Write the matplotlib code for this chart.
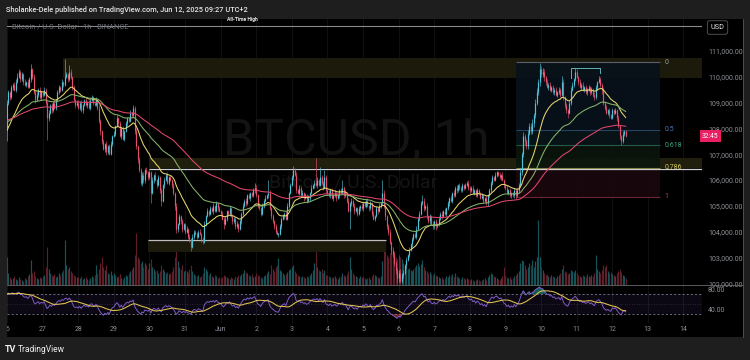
import numpy as np
import pandas as pd
import matplotlib
matplotlib.use("Agg")
import matplotlib.pyplot as plt
from matplotlib.patches import Rectangle
from matplotlib.transforms import blended_transform_factory
from matplotlib import font_manager

# ---------------- data ----------------
title = "Sholanke-Dele published on TradingView.com, Jun 12, 2025 09:27 UTC+2"
symbol_desc = "Bitcoin / U.S. Dollar \u00b7 1h \u00b7 BINANCE"
watermark = "BTCUSD, 1h"
watermark_sub = "Bitcoin / U.S. Dollar"
ath_label = "All-Time High"
currency = "USD"
countdown = "32:45"
day_labels = ["26", "27", "28", "29", "30", "31", "Jun", "2", "3", "4", "5", "6",
              "7", "8", "9", "10", "11", "12", "13", "14"]
price_ticks = [102000, 103000, 104000, 105000, 106000, 107000, 108000, 109000, 110000, 111000]
rsi_ticks = [40, 80]

# hourly closes in units of $100 (one list per day, from May 26 00:00)
first_open = 1080
close_0526 = [1090,1094,1092,1096,1097,1095,1098,1100,1102,1099,1101,1098,1097,1098,1096,1099,1103,1100,1094,1091,1093,1095,1092,1094]
close_0527 = [1093,1095,1090,1084,1086,1089,1087,1090,1088,1091,1094,1096,1095,1098,1097,1100,1101,1099,1102,1100,1096,1091,1089,1090]
close_0528 = [1088,1090,1087,1089,1091,1089,1090,1088,1091,1092,1090,1089,1091,1088,1083,1079,1075,1072,1074,1071,1073,1070,1074,1077]
close_0529 = [1078,1081,1084,1082,1077,1080,1076,1079,1082,1084,1083,1086,1085,1088,1079,1073,1068,1064,1059,1062,1060,1064,1063,1061]
close_0530 = [1063,1055,1060,1062,1060,1058,1061,1056,1052,1058,1060,1062,1059,1061,1060,1058,1055,1050,1041,1043,1046,1044,1041,1043]
close_0531 = [1040,1041,1038,1037,1034,1038,1040,1039,1038,1040,1039,1037,1036,1043,1046,1048,1047,1049,1048,1050,1048,1051,1049,1048]
close_0601 = [1047,1045,1043,1045,1048,1047,1049,1046,1044,1045,1042,1043,1041,1044,1047,1050,1052,1051,1054,1053,1055,1054,1056,1057]
close_0602 = [1054,1050,1049,1047,1050,1052,1053,1054,1055,1049,1046,1044,1042,1040,1039,1039,1042,1045,1046,1047,1045,1050,1055,1058]
close_0603 = [1061,1064,1062,1056,1055,1057,1054,1055,1053,1054,1052,1053,1055,1057,1058,1059,1058,1060,1058,1061,1059,1057,1061,1056]
close_0604 = [1055,1054,1056,1053,1054,1055,1053,1054,1056,1055,1057,1054,1055,1052,1048,1051,1052,1050,1048,1049,1047,1049,1050,1049]
close_0605 = [1051,1050,1052,1050,1049,1051,1047,1045,1046,1049,1048,1050,1051,1055,1050,1046,1042,1040,1036,1033,1031,1028,1025,1022]
close_0606 = [1024,1021,1023,1024,1027,1029,1031,1033,1035,1037,1039,1038,1041,1045,1047,1051,1052,1049,1050,1046,1044,1046,1043,1042]
close_0607 = [1044,1042,1043,1045,1047,1046,1048,1047,1049,1051,1053,1052,1055,1054,1057,1056,1058,1057,1056,1058,1057,1058,1059,1057]
close_0608 = [1056,1057,1055,1056,1054,1056,1055,1053,1054,1052,1053,1051,1054,1056,1059,1061,1060,1062,1063,1062,1061,1062,1060,1058]
close_0609 = [1057,1055,1056,1054,1055,1054,1056,1054,1056,1058,1063,1070,1077,1075,1073,1078,1081,1079,1082,1085,1090,1094,1098,1103]
close_0610 = [1101,1102,1100,1098,1096,1097,1095,1096,1094,1095,1093,1094,1095,1093,1098,1092,1089,1087,1086,1090,1095,1097,1099,1102]
close_0611 = [1100,1098,1096,1097,1095,1096,1094,1095,1096,1094,1095,1093,1092,1096,1098,1099,1097,1095,1090,1088,1086,1087,1085,1084]
close_0612 = [1087,1086,1087,1084,1081,1077,1075,1078,1079,1077]

# upper / lower wick lengths beyond the body, in steps of $50
wick_up_0526 = [2,2,1,2,1,2,2,3,2,1,2,1,2,1,2,2,4,1,2,1,2,1,2,1]
wick_up_0527 = [1,2,1,1,2,1,2,1,2,1,2,2,1,2,1,14,2,1,5,2,1,2,1,2]
wick_up_0528 = [2,1,2,1,1,2,1,2,1,2,1,1,2,1,2,1,1,2,1,2,1,2,2,1]
wick_up_0529 = [2,1,2,1,2,1,2,1,2,1,1,2,1,2,1,2,1,2,1,2,2,1,2,1]
wick_up_0530 = [2,1,2,1,2,1,2,1,2,1,2,1,2,1,2,1,2,1,2,1,2,1,2,1]
wick_up_0531 = [1,2,1,2,1,2,1,1,2,1,2,1,2,2,1,2,1,2,1,2,1,2,1,2]
wick_up_0601 = [1,2,1,2,1,1,2,1,2,1,1,2,1,2,1,2,1,2,1,2,1,1,2,4]
wick_up_0602 = [2,1,2,1,2,1,2,1,10,2,1,2,1,2,1,1,2,1,2,1,2,2,1,2]
wick_up_0603 = [2,3,1,2,1,2,1,2,1,2,1,2,1,2,1,2,19,2,1,8,2,1,6,2]
wick_up_0604 = [1,2,1,2,1,2,1,2,1,2,6,1,2,1,2,1,2,1,2,1,1,2,1,2]
wick_up_0605 = [1,2,1,2,1,2,1,2,1,2,1,2,1,10,2,2,1,2,2,1,2,2,1,2]
wick_up_0606 = [2,3,2,2,1,2,1,2,1,2,1,2,2,1,2,2,4,2,1,2,1,2,1,2]
wick_up_0607 = [1,2,1,2,1,2,1,2,1,2,1,2,1,2,1,2,1,2,1,2,1,2,1,2]
wick_up_0608 = [1,1,2,1,1,2,1,1,2,1,1,2,1,2,1,2,1,2,1,1,2,1,2,1]
wick_up_0609 = [1,2,1,2,1,1,2,1,2,2,3,2,3,2,2,3,2,2,3,2,3,3,2,5]
wick_up_0610 = [2,3,2,1,2,1,2,1,2,1,2,1,2,1,5,2,1,2,1,2,2,2,1,3]
wick_up_0611 = [2,1,2,1,2,1,2,1,2,1,2,1,2,2,1,3,2,1,2,1,2,1,2,1]
wick_up_0612 = [2,1,2,1,2,1,1,2,1,1]

wick_dn_0526 = [10,2,2,1,2,1,2,1,1,2,1,2,1,2,1,1,2,2,1,2,1,2,1,2]
wick_dn_0527 = [2,1,2,17,2,1,2,1,1,2,1,1,2,1,2,1,1,2,1,2,2,1,2,1]
wick_dn_0528 = [1,2,1,2,1,1,2,1,2,1,2,1,1,2,2,3,2,1,2,3,2,1,1,2]
wick_dn_0529 = [1,2,1,2,1,2,1,2,1,2,1,1,2,1,2,2,3,2,2,3,2,2,1,2]
wick_dn_0530 = [1,8,1,2,1,2,1,2,4,1,2,1,1,2,1,2,2,3,3,2,1,2,2,1]
wick_dn_0531 = [2,1,2,2,3,1,2,1,2,1,1,2,2,1,2,1,2,1,1,2,1,1,2,1]
wick_dn_0601 = [2,1,4,1,2,1,2,1,2,1,2,1,2,1,2,1,1,2,1,1,2,1,1,2]
wick_dn_0602 = [1,2,1,2,1,2,1,1,2,1,2,1,2,2,1,2,1,2,1,2,1,1,2,1]
wick_dn_0603 = [1,2,1,2,1,2,1,1,2,1,2,1,2,1,1,2,1,2,1,1,2,2,1,2]
wick_dn_0604 = [2,1,2,1,2,1,2,1,2,1,1,2,1,2,1,14,2,1,2,1,2,1,2,1]
wick_dn_0605 = [2,1,2,1,2,1,2,1,2,1,2,1,2,1,2,3,2,3,2,3,2,3,3,4]
wick_dn_0606 = [3,2,2,2,1,2,1,2,1,2,1,1,2,1,2,1,1,2,1,2,1,2,1,2]
wick_dn_0607 = [2,3,1,2,1,2,1,1,2,1,2,1,2,1,1,2,1,2,1,1,2,1,1,2]
wick_dn_0608 = [2,1,1,2,1,1,2,1,1,2,1,1,2,1,1,2,1,1,2,1,1,2,1,2]
wick_dn_0609 = [2,1,2,1,2,1,2,3,1,2,1,2,2,3,2,2,1,2,2,3,2,2,2,3]
wick_dn_0610 = [2,2,3,2,1,2,1,2,1,2,1,2,1,2,1,2,2,2,4,1,2,1,2,1]
wick_dn_0611 = [1,2,1,2,1,2,1,2,1,2,1,2,2,1,2,1,2,3,2,2,1,2,2,1]
wick_dn_0612 = [1,2,1,2,2,2,3,1,2,1]

# hourly volume (relative units)
vol_0526 = [28,12,8,6,7,9,6,5,8,6,5,4,7,6,9,11,25,12,14,9,7,6,8,7]
vol_0527 = [9,10,18,38,16,12,10,9,11,8,9,12,10,13,15,45,20,16,18,14,12,10,9,8]
vol_0528 = [8,7,9,6,7,8,6,5,7,9,8,10,20,12,16,22,28,18,15,20,12,11,14,10]
vol_0529 = [12,10,8,9,11,7,6,8,10,9,12,14,16,18,30,52,28,26,22,24,18,22,20,16]
vol_0530 = [22,26,18,16,14,15,12,14,20,16,14,12,13,11,12,14,18,28,45,24,18,16,20,14]
vol_0531 = [15,14,12,16,20,14,11,10,9,10,8,9,12,18,16,14,10,12,9,8,10,9,7,8]
vol_0601 = [7,8,10,9,8,7,6,8,7,6,9,8,10,9,11,12,15,13,12,10,9,11,8,9]
vol_0602 = [12,10,9,8,7,9,10,12,14,11,20,16,14,18,20,27,15,14,12,10,11,13,15,16]
vol_0603 = [18,20,14,12,10,9,8,9,8,7,9,8,10,12,15,22,37,18,15,14,16,12,15,10]
vol_0604 = [10,9,8,7,8,9,7,6,8,9,12,10,9,11,14,28,16,12,10,9,8,7,9,8]
vol_0605 = [8,7,6,7,8,6,9,11,10,9,8,7,9,24,36,42,30,28,32,38,30,34,28,26]
vol_0606 = [30,28,26,22,20,18,16,17,15,14,16,18,20,22,19,21,25,18,15,14,12,13,11,10]
vol_0607 = [12,10,9,8,7,8,6,7,9,8,10,9,11,8,12,9,8,7,6,8,7,6,7,6]
vol_0608 = [5,6,5,4,5,6,5,4,5,6,7,5,8,10,12,11,9,8,7,6,5,7,9,18]
vol_0609 = [10,8,7,8,6,7,9,10,12,14,22,25,24,20,16,18,22,20,25,18,24,28,65,28]
vol_0610 = [18,15,12,10,11,9,8,10,9,8,7,9,10,12,16,20,14,13,11,12,15,14,13,15]
vol_0611 = [12,10,9,8,10,9,8,11,9,8,10,9,12,30,16,14,12,15,20,18,20,14,12,13]
vol_0612 = [11,10,9,12,14,16,13,10,9,7]

# indicator settings / starting values read at the left edge
ema_periods = [20, 50, 100]
ema_start = [107800, 108200, 108300]
rsi_period = 14
rsi_start_gain = 200.0
rsi_start_loss = 120.0

# drawings (prices in $, times in hours since May 26 00:00)
ath_price = 111980
supply_zone = [109950, 110730]
supply_start = 38
mid_zone = [106465, 106850]
mid_line = 106410
mid_start = 96
low_zone = [103210, 103670]
low_start, low_end = 95, 255.5
fib_high, fib_low = 110560, 105350
fib_levels = [0, 0.5, 0.618, 0.786, 1]
fib_names = ["0", "0.5", "0.618", "0.786", "1"]
fib_start, fib_end = 343, 440
range_top = 110350
range_left, range_right = 380, 400
range_feet = [109950, 110150]

# ---------------- build series ----------------
closes = np.array(sum([close_0526, close_0527, close_0528, close_0529, close_0530, close_0531,
                       close_0601, close_0602, close_0603, close_0604, close_0605, close_0606,
                       close_0607, close_0608, close_0609, close_0610, close_0611, close_0612], []), float) * 100
wu = np.array(sum([wick_up_0526, wick_up_0527, wick_up_0528, wick_up_0529, wick_up_0530, wick_up_0531,
                   wick_up_0601, wick_up_0602, wick_up_0603, wick_up_0604, wick_up_0605, wick_up_0606,
                   wick_up_0607, wick_up_0608, wick_up_0609, wick_up_0610, wick_up_0611, wick_up_0612], []), float) * 50
wd = np.array(sum([wick_dn_0526, wick_dn_0527, wick_dn_0528, wick_dn_0529, wick_dn_0530, wick_dn_0531,
                   wick_dn_0601, wick_dn_0602, wick_dn_0603, wick_dn_0604, wick_dn_0605, wick_dn_0606,
                   wick_dn_0607, wick_dn_0608, wick_dn_0609, wick_dn_0610, wick_dn_0611, wick_dn_0612], []), float) * 50
vols = np.array(sum([vol_0526, vol_0527, vol_0528, vol_0529, vol_0530, vol_0531,
                     vol_0601, vol_0602, vol_0603, vol_0604, vol_0605, vol_0606,
                     vol_0607, vol_0608, vol_0609, vol_0610, vol_0611, vol_0612], []), float)
n = len(closes)
hrs = np.arange(n)
opens = np.concatenate([[first_open * 100.0], closes[:-1]])
body_lo = np.minimum(opens, closes)
body_hi = np.maximum(opens, closes)
highs = body_hi + wu
lows = body_lo - wd
up = closes >= opens


def ema(values, span, start):
    a = 2.0 / (span + 1)
    e = start
    out = []
    for v in values:
        e = e + a * (v - e)
        out.append(e)
    return np.array(out)


emas = [ema(closes, p, s) for p, s in zip(ema_periods, ema_start)]

delta = closes - opens
ag, al = rsi_start_gain, rsi_start_loss
rsi = []
for d in delta:
    ag = (ag * (rsi_period - 1) + max(d, 0)) / rsi_period
    al = (al * (rsi_period - 1) + max(-d, 0)) / rsi_period
    rsi.append(100 - 100 / (1 + ag / al))
rsi = np.array(rsi)
rsi_ma = pd.Series(rsi).rolling(14, min_periods=1).mean().values

# ---------------- styling ----------------
W, H = 750, 360
BG = "#1e1e1e"
UP = "#52c2d6"
DN = "#e44f6d"
GRAY = "#8c8f96"
names = {f.name for f in font_manager.fontManager.ttflist}
FONT = "Roboto" if "Roboto" in names else "DejaVu Sans"
plt.rcParams["font.family"] = [FONT, "DejaVu Sans"]

fig = plt.figure(figsize=(7.5, 3.6), dpi=100, facecolor=BG)


def fx(px):
    return px / W


def fy(py):
    return 1 - py / H


def rect_px(x0, y0, x1, y1):
    return [fx(x0), fy(y1), (x1 - x0) / W, (y1 - y0) / H]


# black chart frame
fig.add_artist(Rectangle((fx(7), fy(337)), (743 - 7) / W, (337 - 19) / H,
                         transform=fig.transFigure, facecolor="#000000", edgecolor="none", zorder=-1))

XMAX = 695 / 1.4835
YLO, YHI = 101930, 112240

ax_vol = fig.add_axes(rect_px(7, 19, 702, 285))
ax = fig.add_axes(rect_px(7, 19, 702, 285), sharex=ax_vol)
ax_rsi = fig.add_axes(rect_px(7, 285, 702, 323), sharex=ax_vol)
for a in (ax_vol, ax, ax_rsi):
    a.set_facecolor("none")
    for s in a.spines.values():
        s.set_visible(False)
ax_vol.set_xlim(0, XMAX)

day_pos = [24 * i for i in range(len(day_labels))]

# grid + volume
ax_vol.set_ylim(0, 266)
for p in day_pos:
    ax_vol.axvline(p, color="#141414", lw=0.6, zorder=0)
    ax_rsi.axvline(p, color="#141414", lw=0.6, zorder=0)
ax_vol.vlines(hrs, 0, vols, colors=np.where(up, "#17545a", "#5e1f2b"), lw=0.85, zorder=1)
ax_vol.set_yticks([])
ax_vol.tick_params(axis="x", labelbottom=False, length=0)

# main price pane
ax.set_ylim(YLO, YHI)
trans_ax_x = blended_transform_factory(ax.transAxes, ax.transData)

# watermark
ax.text(0.502, 0.489, watermark, transform=ax.transAxes, ha="center", va="baseline",
        fontsize=36, color="#131313", zorder=0)
ax.text(0.498, 0.368, watermark_sub, transform=ax.transAxes, ha="center", va="baseline",
        fontsize=14, color="#151515", zorder=0)

# zones
ZONE = "#1b1a0b"
ax.add_patch(Rectangle((supply_start, supply_zone[0]), XMAX - supply_start, supply_zone[1] - supply_zone[0],
                       facecolor=ZONE, edgecolor="none", zorder=1))
ax.add_patch(Rectangle((mid_start, mid_zone[0]), XMAX - mid_start, mid_zone[1] - mid_zone[0],
                       facecolor="#201f0d", edgecolor="none", zorder=1))
ax.hlines(mid_line, mid_start, XMAX, color="#cfcfcf", lw=0.9, zorder=3)
ax.add_patch(Rectangle((low_start, low_zone[0]), low_end - low_start, low_zone[1] - low_zone[0],
                       facecolor=ZONE, edgecolor="none", zorder=1))
ax.hlines(low_zone[1], low_start, low_end, color="#bdbdbd", lw=0.9, zorder=3)

# fib retracement
fib_prices = [fib_high - lv * (fib_high - fib_low) for lv in fib_levels]
fib_fill = ["#08111b", "#08161a", "#0b160e", "#1a080e"]
fib_line = ["#5d6068", "#26435f", "#245a48", "#7a7a3a", "#6a2434"]
fib_txt = ["#9a9da5", "#4f74b3", "#3fa37f", "#d0c45a", "#c2404f"]
for i in range(4):
    ax.add_patch(Rectangle((fib_start, fib_prices[i + 1]), fib_end - fib_start,
                           fib_prices[i] - fib_prices[i + 1], facecolor=fib_fill[i],
                           edgecolor="none", alpha=0.9, zorder=1.5))
for p, lc, tc, nm in zip(fib_prices, fib_line, fib_txt, fib_names):
    ax.hlines(p, fib_start, fib_end, color=lc, lw=0.8, zorder=2)
    ax.text(fib_end + 3, p, nm, color=tc, fontsize=5, va="center", ha="left", zorder=6)

# ATH line
ax.axhline(ath_price, color="#8a8a8a", lw=0.8, zorder=3)
ax.text(242 / 695 * XMAX - 7 / 1.4835, ath_price + 150, ath_label, color="#f0f0f0", fontsize=3.6,
        fontweight="bold", ha="center", va="bottom", zorder=6)

# range bracket
ax.plot([range_left, range_left, range_right, range_right],
        [range_feet[0], range_top, range_top, range_feet[1]], color="#5fb3b8", lw=0.7, zorder=6)

# candles
cols = np.where(up, UP, DN)
ax.vlines(hrs, lows, highs, colors=cols, lw=0.45, zorder=4)
bh = np.maximum(body_hi, body_lo + 30)
ax.vlines(hrs, body_lo, bh, colors=cols, lw=0.85, zorder=5)

# moving averages
for e, c in zip(emas, ["#e8d66f", "#86b46a", "#e2476c"]):
    ax.plot(hrs, e, color=c, lw=0.75, zorder=5.5)

# price scale
ax.yaxis.tick_right()
ax.set_yticks(price_ticks)
ax.set_yticklabels([f"{p:,.2f}" for p in price_ticks])
ax.tick_params(axis="y", length=0, pad=4.3, labelsize=5, labelcolor=GRAY)
ax.tick_params(axis="x", length=0, labelbottom=False)

# last price label
ax.text(1.0, closes[-1], countdown, transform=trans_ax_x, fontsize=4.8, color="white",
        ha="left", va="center", zorder=7,
        bbox=dict(boxstyle="square,pad=0.35", facecolor="#e91e63", edgecolor="none"))

# RSI pane
ax_rsi.set_ylim(12, 88)
ax_rsi.axhspan(30, 70, color="#7e57c2", alpha=0.1, lw=0, zorder=0)
ax_rsi.axhline(70, color="#787b86", lw=0.6, ls=(0, (2.5, 2.5)), zorder=1)
ax_rsi.axhline(30, color="#787b86", lw=0.6, ls=(0, (2.5, 2.5)), zorder=1)
ax_rsi.axhline(50, color="#787b86", lw=0.5, ls=(0, (1, 2.5)), alpha=0.5, zorder=1)
ax_rsi.fill_between(hrs, rsi, 70, where=rsi > 70, color="#26a69a", alpha=0.55, lw=0, zorder=2)
ax_rsi.fill_between(hrs, rsi, 30, where=rsi < 30, color="#ef5350", alpha=0.45, lw=0, zorder=2)
ax_rsi.plot(hrs, rsi, color="#8660d0", lw=0.65, zorder=3)
ax_rsi.plot(hrs, rsi_ma, color="#e3c453", lw=0.75, zorder=4)
ax_rsi.yaxis.tick_right()
ax_rsi.set_yticks(rsi_ticks)
ax_rsi.set_yticklabels([f"{v:.2f}" for v in rsi_ticks])
ax_rsi.tick_params(axis="y", length=0, pad=4.3, labelsize=5, labelcolor=GRAY)
ax_rsi.set_xticks(day_pos)
ax_rsi.set_xticklabels(day_labels)
ax_rsi.tick_params(axis="x", length=0, pad=2.5, labelsize=5, labelcolor=GRAY)

# separators / frame lines
fig.add_artist(plt.Line2D([fx(7), fx(743)], [fy(285), fy(285)], transform=fig.transFigure,
                          color="#6a6a6a", lw=0.6, zorder=3))
fig.add_artist(plt.Line2D([fx(743), fx(743)], [fy(19), fy(337)], transform=fig.transFigure,
                          color="#555555", lw=0.6, zorder=3))
# left frame strip (hides the clipped part of the first date label)
fig.add_artist(Rectangle((0, fy(340)), 7 / W, (340 - 19) / H, transform=fig.transFigure,
                         facecolor=BG, edgecolor="none", zorder=10))

# header texts
renderer = fig.canvas.get_renderer()


def fit(t, width_px):
    w = t.get_window_extent(renderer).width
    t.set_fontsize(t.get_fontsize() * width_px / w)


t1 = fig.text(fx(6), fy(9.5), title, color="#e6e6e6", fontsize=6, va="center", ha="left", fontweight="medium")
fit(t1, 244)
t2 = fig.text(fx(12), fy(26.7), symbol_desc, color="#6f727a", fontsize=5, va="center", ha="left", zorder=2)
fit(t2, 118)
fig.text(fx(717.5), fy(27.5), currency, color="#e6e6e6", fontsize=5.2, ha="center", va="center",
         bbox=dict(boxstyle="round,pad=0.45,rounding_size=0.3", facecolor="#000000", edgecolor="#5a5a5a", lw=0.6))

# footer logo
fig.text(fx(5), fy(349), "TV", color="#f0f0f0", fontsize=6.5, fontweight="bold", ha="left", va="center")
t3 = fig.text(fx(18), fy(349), "TradingView", color="#f0f0f0", fontsize=6, ha="left", va="center")
fit(t3, 48)

fig.savefig("out.png", dpi=100, facecolor=BG)
